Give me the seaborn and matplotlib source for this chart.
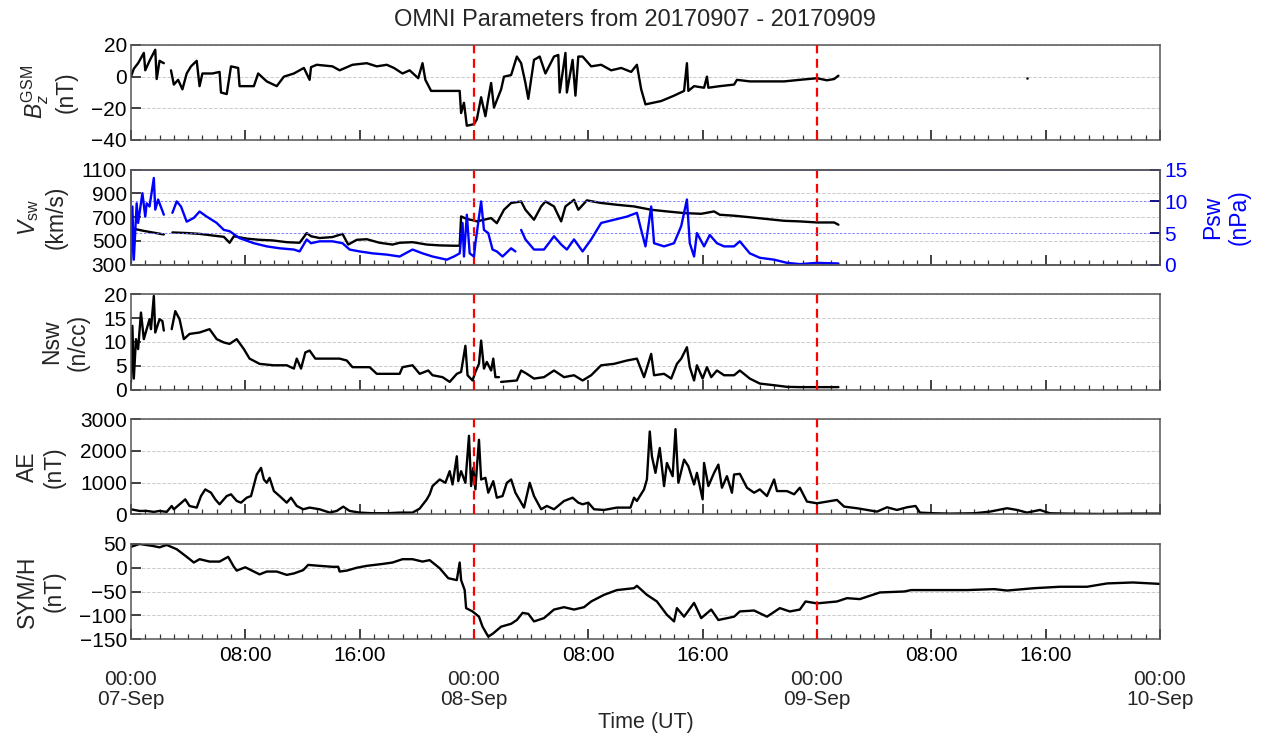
import numpy as np
import pandas as pd
import matplotlib
matplotlib.use("Agg")
import matplotlib.pyplot as plt
import matplotlib.ticker as mticker
import seaborn as sns

# hours since 2017-09-07 00:00 UT ; nan marks a data gap
bz_t = [0.0, 0.2, 0.5, 0.9, 1.0, 1.3, 1.7, 1.8, 2.0, 2.3,
        2.5, 2.8, 3.0, 3.3, 3.6, 3.9, 4.2, 4.6, 4.8, 5.0,
        5.7, 6.2, 6.3, 6.7, 7.0, 7.5, 7.6, 8.6, 8.9, 9.5,
        10.2, 10.7, 11.4, 12.1, 12.5, 12.6, 13.0, 14.1, 14.6, 15.5,
        16.5, 17.2, 17.9, 18.4, 19.0, 19.5, 20.1, 20.4, 20.6, 21.0,
        23.0, 23.1, 23.3, 23.5, 24.0, 24.2, 24.5, 24.8, 25.0, 25.2,
        25.4, 25.9, 26.1, 26.6, 27.0, 27.3, 27.6, 27.8, 28.2, 28.6,
        29.0, 29.6, 29.9, 30.0, 30.4, 30.5, 30.9, 31.1, 31.3, 31.6,
        32.2, 32.9, 33.6, 34.3, 35.0, 35.4, 35.7, 36.0, 37.1, 38.0,
        38.7, 38.9, 39.0, 39.4, 40.1, 40.3, 40.4, 41.2, 42.2, 42.4,
        43.3, 44.5, 45.7, 46.8, 48.0, 48.7, 49.2, 49.5]
bz_v = [0.0, 5, 8.5, 15, 4, 10, 17, -1.5, 10, 8.5,
        np.nan, 4, -5, -2, -8, 2, 6.5, 10, -6, 2,
        2, 3, -10, -11, 6.5, 5.5, -6, -6, 2, -3,
        -6, 0, 2, 5.5, -2, 6, 7.5, 6.5, 4, 7.5,
        8.5, 6.5, 7.5, 5.5, 2, 4, -1, 8.5, -2, -9,
        -9, -23, -16.5, -31, -30, -27, -13, -25, -14, -4,
        -19.5, -8, 0, 1, 12.7, 8.5, -4, -14, 10.6, 12.7,
        2, 12.7, 13.7, -10, 15, -10, 10.6, -12, 12.7, 12.7,
        6.5, 7.5, 4, 5.5, 3, 7.5, -8, -17.5, -15.4, -12,
        -9, 8.5, -9, -6, -7, 0, -7, -6, -5, -2,
        -3, -3, -3, -2, -1, -2.3, -1.5, 0.6]
bz_dot_t = [62.7]
bz_dot_v = [-0.8]

vsw_t = [0.0, 0.1, 0.3, 0.9, 1.6, 2.3, 2.5, 2.9, 3.9, 4.8,
         5.8, 6.5, 6.9, 7.2, 8.1, 9.0, 9.9, 10.9, 11.8, 12.3,
         12.6, 13.2, 14.1, 14.8, 15.2, 15.8, 16.5, 17.4, 18.3, 18.8,
         19.7, 20.7, 21.6, 22.6, 23.0, 23.1, 23.5, 24.0, 24.2, 25.2,
         25.6, 26.1, 26.6, 27.3, 27.6, 28.2, 28.7, 29.0, 29.6, 30.1,
         30.4, 31.0, 31.3, 31.9, 32.9, 34.0, 35.2, 36.4, 37.5, 38.7,
         39.9, 40.8, 41.2, 42.2, 43.3, 44.5, 45.7, 46.8, 48.0, 49.2,
         49.5]
vsw_v = [595, 510, 600, 585, 570, 555, np.nan, 572, 567, 560,
         545, 535, 485, 540, 520, 510, 505, 490, 485, 567,
         540, 525, 533, 560, 470, 510, 515, 485, 470, 485,
         490, 470, 463, 460, 460, 707, 685, 673, 665, 693,
         650, 763, 820, 833, 763, 679, 791, 833, 791, 665,
         791, 847, 763, 842, 820, 805, 791, 763, 749, 735,
         729, 749, 721, 713, 700, 685, 670, 665, 656, 656,
         637]

psw_t = [0.0, 0.1, 0.2, 0.4, 0.5, 0.8, 1.0, 1.1, 1.3, 1.6,
         1.7, 1.9, 2.3, 2.5, 2.9, 3.2, 3.5, 3.9, 4.4, 4.8,
         5.3, 6.0, 6.5, 6.9, 7.6, 8.6, 9.5, 10.4, 11.4, 11.8,
         12.3, 12.6, 13.2, 14.1, 14.8, 15.3, 16.0, 16.9, 17.9, 18.8,
         19.7, 20.4, 21.1, 22.1, 22.6, 23.0, 23.2, 23.3, 23.5, 23.7,
         24.0, 24.1, 24.5, 24.7, 25.0, 25.3, 25.6, 26.0, 26.6, 26.9,
         27.0, 27.3, 27.6, 28.2, 28.9, 29.6, 30.1, 30.5, 31.0, 31.6,
         32.2, 32.9, 33.8, 34.7, 35.4, 35.7, 36.0, 36.4, 36.6, 37.3,
         38.0, 38.5, 38.9, 39.1, 39.4, 39.6, 40.1, 40.5, 41.0, 41.5,
         42.2, 42.6, 43.3, 44.0, 45.0, 45.9, 46.8, 48.0, 49.5]
psw_v = [0.3, 9.2, 0.8, 9.7, 6.6, 11.3, 7.6, 9.7, 9.2, 13.7,
         8.7, 10.3, 7.9, np.nan, 8.2, 10, 9.2, 6.8, 7.4, 8.4,
         7.6, 6.6, 5.5, 5.3, 4.2, 3.4, 2.9, 2.6, 2.4, 2.1,
         4.0, 3.4, 3.7, 3.7, 3.4, 2.4, 2.1, 1.8, 1.6, 1.3,
         2.4, 1.8, 1.3, 0.8, 1.3, 1.8, 6.6, 1.3, 7.9, 1.8,
         1.3, 3.4, 10, 5.5, 5, 2.4, 2.1, 1.3, 2.6, 2.1,
         np.nan, 5.5, 4, 2.4, 2.4, 4.5, 3.2, 2.4, 4, 2.1,
         4, 6.6, 7.1, 7.6, 8.2, 5.5, 2.9, 9.2, 3.4, 2.9,
         3.4, 6.1, 10.3, 3.4, 1.3, 5, 2.9, 4.7, 3.4, 2.9,
         2.9, 3.7, 1.8, 1.1, 0.8, 0.3, 0.1, 0.3, 0.2]

nsw_t = [0.0, 0.1, 0.2, 0.35, 0.5, 0.7, 0.9, 1.1, 1.3, 1.4,
         1.6, 1.7, 2.0, 2.2, 2.3, 2.5, 2.85, 3.1, 3.4, 3.7,
         4.1, 4.8, 5.5, 6.0, 6.5, 6.9, 7.4, 7.9, 8.3, 9.0,
         9.95, 10.9, 11.4, 11.6, 11.9, 12.2, 12.5, 12.9, 13.7, 14.6,
         15.1, 15.5, 16.2, 16.7, 17.2, 18.1, 18.8, 19.0, 19.7, 20.2,
         20.8, 21.1, 21.8, 22.3, 22.8, 23.1, 23.4, 23.55, 23.9, 24.1,
         24.35, 24.5, 24.7, 24.9, 25.2, 25.35, 25.5, 25.75, 25.8, 25.9,
         27.0, 27.3, 27.7, 28.2, 28.9, 29.6, 30.3, 31.0, 31.6, 32.2,
         32.9, 33.8, 34.7, 35.4, 35.9, 36.4, 36.6, 37.3, 37.8, 38.2,
         38.5, 38.9, 39.1, 39.4, 39.6, 40.0, 40.3, 40.6, 41.0, 41.5,
         42.2, 42.6, 43.3, 44.0, 45.0, 45.9, 46.8, 48.0, 49.5]
nsw_v = [1.6, 13.4, 2.3, 10.6, 8.5, 16.2, 10.6, 12.7, 14.8, 12.7,
         19.7, 12, 14.8, 14.4, 12.4, np.nan, 12.7, 16.5, 14.8, 10.6,
         11.7, 12, 12.7, 10.6, 9.9, 9.6, 10.6, 8.5, 6.5, 5.4,
         5.1, 5.1, 4.4, 6.5, 4.4, 7.8, 8.2, 6.5, 6.5, 6.5,
         6.1, 4.7, 4.7, 4.7, 3.3, 3.3, 3.3, 4.7, 5.1, 3.3,
         4, 3, 2.6, 1.6, 3.3, 3.7, 9.2, 3, 1.9, 3.7,
         5.4, 10.3, 4.4, 5.8, 4, 6.5, 2.6, 2.6, np.nan, 1.6,
         1.9, 4, 3.3, 2.3, 2.6, 4, 2.6, 3, 1.9, 3,
         5.1, 5.4, 6.1, 6.5, 2.6, 7.5, 3, 3.3, 2.3, 5.4,
         6.5, 8.9, 4.7, 1.9, 5.1, 2.3, 4.7, 2.6, 4, 3,
         3, 4, 2.3, 1.25, 0.9, 0.56, 0.5, 0.5, 0.5]

ae_t = [0.0, 0.6, 1.1, 1.6, 2.0, 2.5, 2.85, 3.0, 3.4, 3.8,
        4.1, 4.6, 4.9, 5.2, 5.6, 5.9, 6.2, 6.7, 7.0, 7.4,
        7.7, 8.1, 8.4, 8.8, 9.1, 9.3, 9.5, 9.7, 10.0, 10.4,
        10.9, 11.2, 11.6, 12.05, 12.5, 13.2, 13.9, 14.4, 14.85, 15.3,
        16.0, 16.9, 17.9, 18.8, 19.7, 20.2, 20.7, 20.9, 21.1, 21.6,
        22.0, 22.3, 22.5, 22.8, 22.9, 23.1, 23.4, 23.65, 23.8, 23.95,
        24.1, 24.2, 24.35, 24.5, 24.8, 25.0, 25.35, 25.6, 26.0, 26.3,
        26.6, 26.9, 27.5, 27.9, 28.2, 28.7, 29.1, 29.6, 30.3, 30.9,
        31.3, 31.6, 32.0, 32.4, 33.1, 34.0, 34.95, 35.2, 35.4, 35.9,
        36.1, 36.3, 36.45, 36.7, 37.0, 37.3, 37.5, 37.9, 38.1, 38.3,
        38.7, 39.0, 39.4, 39.6, 40.0, 40.1, 40.4, 40.8, 41.1, 41.35,
        41.7, 42.05, 42.2, 42.6, 43.1, 43.6, 44.0, 44.5, 45.0, 45.2,
        45.9, 46.4, 46.8, 47.3, 48.0, 48.7, 49.4, 49.9, 50.8, 51.5,
        52.2, 52.9, 53.6, 54.3, 54.9, 55.2, 56.2, 57.3, 59.0, 60.1,
        61.3, 62.0, 62.7, 63.6, 64.3, 65.5, 67.8, 70.1, 72.0]
ae_v = [157, 105, 105, 75, 105, 75, 260, 157, 314, 470,
        260, 210, 575, 785, 680, 470, 314, 575, 630, 420,
        366, 523, 575, 1255, 1464, 1098, 993, 1150, 732, 575,
        366, 523, 262, 157, 210, 157, 52, 105, 240, 105,
        52, 32, 32, 52, 52, 178, 470, 630, 890, 1098,
        993, 1360, 940, 1830, 1045, 1360, 993, 2478, 890, 1464,
        785, 1464, 2352, 1098, 1150, 680, 1045, 523, 575, 993,
        1098, 680, 210, 993, 575, 157, 262, 157, 418, 523,
        366, 314, 366, 157, 136, 210, 210, 523, 420, 785,
        1098, 2613, 1830, 1307, 2091, 890, 1620, 1202, 2686, 993,
        1725, 1516, 940, 1307, 470, 1620, 890, 1307, 1568, 837,
        1202, 680, 1255, 1276, 837, 680, 785, 575, 1098, 732,
        732, 630, 837, 400, 346, 400, 452, 241, 190, 136,
        83, 220, 136, 220, 262, 52, 31, 20, 31, 83,
        190, 136, 52, 136, 31, 20, 10, 20, 20]

sym_t = [0.0, 0.6, 1.5, 2.0, 2.5, 3.2, 3.9, 4.4, 4.8, 5.5,
         6.2, 6.8, 7.2, 7.4, 8.0, 8.6, 9.0, 9.5, 10.2, 10.9,
         11.4, 12.05, 12.4, 13.2, 14.1, 14.5, 14.6, 15.1, 15.8, 16.5,
         17.6, 18.3, 19.0, 19.7, 20.4, 20.9, 21.6, 22.2, 22.8, 23.0,
         23.1, 23.35, 23.45, 23.9, 24.35, 24.6, 25.0, 25.35, 25.9, 26.6,
         27.0, 27.4, 27.8, 28.2, 28.9, 29.6, 30.3, 31.0, 31.7, 32.2,
         33.1, 34.0, 35.2, 35.4, 36.1, 36.8, 37.5, 38.0, 38.2, 38.7,
         39.4, 39.9, 40.6, 41.1, 42.2, 42.6, 43.6, 44.5, 45.4, 46.1,
         46.8, 47.2, 48.0, 49.4, 50.1, 51.0, 52.4, 54.1, 54.6, 56.2,
         58.5, 60.4, 61.3, 63.2, 65.0, 66.9, 68.3, 70.1, 72.0]
sym_v = [44, 50, 46, 43, 48, 39, 23, 11, 18, 13,
         13, 23, 2, -6, 1, -8, -14, -8, -8, -15,
         -12, -5, 6, 4, 2, 2, -8, -6, 0, 4,
         8, 11, 18, 18, 13, 16, -1, -22, -26, 11,
         -26, -47, -85, -92, -103, -124, -145, -138, -124, -118,
         -110, -95, -97, -113, -106, -88, -83, -88, -83, -71,
         -57, -47, -43, -38, -57, -71, -99, -113, -85, -103,
         -74, -106, -88, -110, -103, -92, -90, -103, -85, -92,
         -88, -71, -75, -71, -64, -66, -52, -50, -47, -47,
         -47, -45, -48, -43, -40, -40, -33, -31, -34]

day_labels = ["07-Sep", "08-Sep", "09-Sep", "10-Sep"]
day_hours = [0, 24, 48, 72]
event_hours = [24, 48]


def segments(t, v):
    # split the series at nan gaps so the line breaks there
    df = pd.DataFrame({"t": t, "v": v})
    df["seg"] = df["v"].isna().cumsum()
    return df.dropna()


def hour_fmt(x, pos):
    h = int(round(x))
    if h % 24 == 0:
        return ""
    return f"{h % 24:02d}:00"


sns.set_style("ticks")
plt.rcParams["font.family"] = ["Liberation Sans", "DejaVu Sans"]
plt.rcParams["mathtext.fontset"] = "custom"
plt.rcParams["mathtext.rm"] = "Liberation Sans"
plt.rcParams["mathtext.it"] = "Liberation Sans:italic"

spine_col = "#555555"
fig, axes = plt.subplots(5, 1, figsize=(12.69, 7.35), dpi=100, sharex=True)
fig.subplots_adjust(left=0.1032, right=0.9141, top=0.9388, bottom=0.1306, hspace=0.313)

series = [(bz_t, bz_v), (vsw_t, vsw_v), (nsw_t, nsw_v), (ae_t, ae_v), (sym_t, sym_v)]
ylims = [(-40, 20), (300, 1100), (0, 20), (0, 3000), (-150, 50)]
ysteps = [20, 200, 5, 1000, 50]
ylabels = ["$B_z^{\\rm GSM}$\n(nT)", "$V_{\\rm sw}$\n(km/s)", "Nsw\n(n/cc)", "AE\n(nT)", "SYM/H\n(nT)"]

for ax, (t, v), lim, step, lab in zip(axes, series, ylims, ysteps, ylabels):
    sns.lineplot(data=segments(t, v), x="t", y="v", units="seg", estimator=None,
                 color="black", lw=1.7, ax=ax, legend=False)
    ax.set_ylim(*lim)
    ax.set_xlim(0, 72)
    ax.set_yticks(np.arange(lim[0], lim[1] + step / 2, step))
    ax.xaxis.set_major_locator(mticker.MultipleLocator(8))
    ax.xaxis.set_minor_locator(mticker.MultipleLocator(1))
    ax.xaxis.set_major_formatter(mticker.FuncFormatter(hour_fmt))
    for h in event_hours:
        ax.axvline(h, color="red", ls="--", lw=1.6, dashes=(4, 2.5), zorder=5)
    for s in ax.spines.values():
        s.set_color(spine_col)
        s.set_linewidth(1.1)
    ax.tick_params(axis="both", which="both", direction="in", colors="#333333", labelcolor="black",
                   labelsize=15, top=False, right=False)
    ax.tick_params(axis="both", which="major", length=7, width=1.3)
    ax.tick_params(axis="x", which="minor", length=3.5, width=0.9)
    ax.tick_params(axis="y", which="minor", left=False)
    ax.tick_params(axis="y", pad=3)
    ax.grid(axis="y", color="#cccccc", ls="--", lw=0.7)
    ax.set_ylabel(lab, fontsize=16.5, linespacing=1.2, labelpad=10)
    ax.set_xlabel("")

sns.scatterplot(x=bz_dot_t, y=bz_dot_v, color="black", s=4, ax=axes[0], legend=False)

# pressure on a twin axis in blue
ax2 = axes[1].twinx()
sns.lineplot(data=segments(psw_t, psw_v), x="t", y="v", units="seg", estimator=None,
             color="blue", lw=1.7, ax=ax2, legend=False)
ax2.set_ylim(0, 15)
ax2.set_yticks([0, 5, 10, 15])
ax2.set_ylabel("Psw\n(nPa)", color="blue", fontsize=16.5, linespacing=1.2, labelpad=10)
ax2.tick_params(axis="y", direction="in", length=7, width=1.3, colors="#000080",
                labelcolor="blue", labelsize=15, pad=3)
ax2.grid(axis="y", color="#6f6fff", ls=(0, (3, 2)), lw=0.6)
for s in ax2.spines.values():
    s.set_color(spine_col)
    s.set_linewidth(1.1)

# day labels sit one line below the hour labels
bot = axes[-1]
bot.tick_params(axis="x", which="major", pad=5)
sec = bot.secondary_xaxis("bottom")
sec.set_xticks(day_hours, labels=[f"00:00\n{d}" for d in day_labels])
sec.tick_params(axis="x", length=0, pad=22, labelsize=15)
for lbl in sec.get_xticklabels():
    lbl.set_linespacing(1.1)
sec.spines["bottom"].set_visible(False)
sec.set_xlabel("Time (UT)", fontsize=15.5, labelpad=2)

fig.suptitle("OMNI Parameters from 20170907 - 20170909", fontsize=17, y=0.973, va="center")

fig.savefig("out.png", dpi=100)
